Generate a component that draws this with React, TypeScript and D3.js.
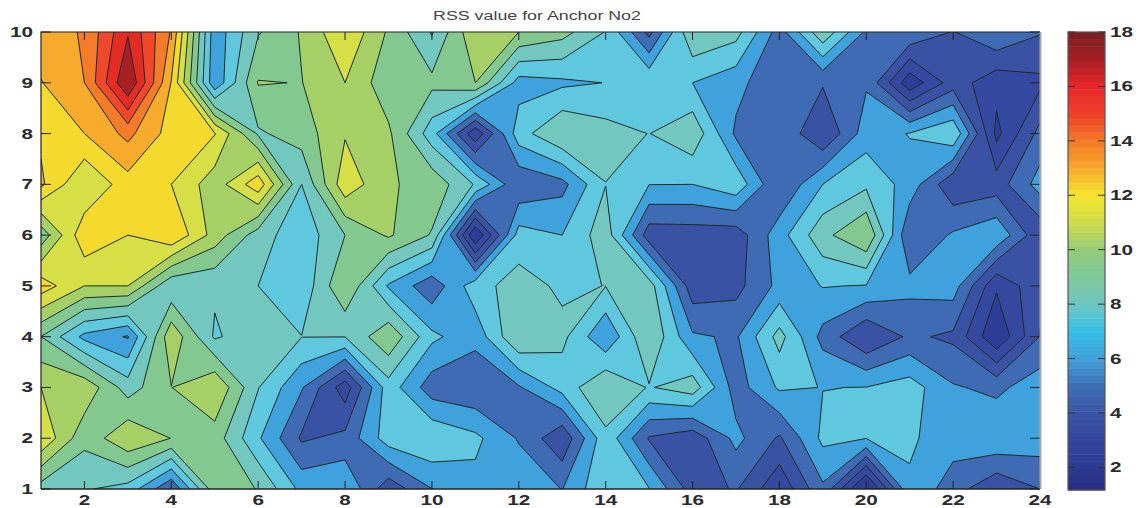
import React from 'react';
import * as d3 from 'd3';

const width = 1138;
const height = 508;
const plot = { left: 41, right: 1040, top: 32, bottom: 489 };
const bar = { left: 1068, right: 1105, top: 32, bottom: 490 };

const xTicks = d3.range(2, 25, 2);
const yTicks = d3.range(1, 11);
const barTicks = d3.range(2, 19, 2);

// RSS readings per row, column 1 to 24
const row1 = [8.06, 7.6, 7.1, 4.4, 9.2, 8.5, 6.15, 6.4, 3.63, 5.38, 6.1, 6.2, 5.37, 7.4, 6.5, 3.85, 4.45, 2.45, 5.2, 0.6, 6.3, 4.82, 3.45, 4.35];
const row2 = [11.57, 8.85, 10.5, 9.58, 9.1, 6.6, 4.2, 4.65, 7.0, 7.4, 6.7, 5.3, 3.5, 7.2, 4.25, 3.65, 5.7, 4.2, 6.7, 6.47, 6.6, 5.9, 6.3, 6.0];
const row3 = [10.65, 10.4, 8.03, 9.58, 10.6, 7.55, 5.5, 2.7, 7.05, 4.8, 4.47, 5.28, 6.84, 8.55, 7.42, 8.1, 4.9, 6.6, 6.43, 6.47, 6.95, 5.5, 5.15, 6.0];
const row4 = [8.55, 6.15, 5.3, 10.4, 7.35, 8.2, 7.52, 7.52, 9.43, 6.7, 5.75, 8.55, 7.8, 5.5, 8.5, 5.55, 5.25, 7.9, 5.03, 3.3, 4.54, 4.14, 1.3, 4.4];
const row5 = [12.28, 10.65, 10.65, 7.65, 7.67, 7.5, 6.7, 9.6, 6.32, 4.68, 7.1, 7.95, 7.3, 7.52, 8.04, 3.7, 4.0, 5.7, 6.5, 6.4, 5.7, 5.9, 2.4, 4.1];
const row6 = [8.9, 12.5, 11.7, 12.7, 10.2, 8.0, 6.8, 8.55, 9.75, 8.45, 1.2, 6.9, 6.45, 8.1, 3.75, 3.8, 3.75, 6.0, 8.23, 9.6, 4.4, 5.55, 6.25, 3.55];
const row7 = [12.95, 10.65, 12.3, 11.7, 10.05, 12.4, 7.5, 11.38, 9.7, 9.3, 7.4, 4.5, 5.06, 7.48, 6.47, 6.45, 7.2, 4.35, 6.45, 7.28, 6.0, 3.5, 3.8, 5.85];
const row8 = [12.55, 12.75, 14.1, 12.3, 11.75, 8.4, 9.05, 10.55, 9.8, 6.9, 2.5, 7.04, 8.55, 7.92, 7.48, 8.3, 5.2, 5.3, 3.3, 5.95, 6.5, 7.4, 1.95, 4.7];
const row9 = [12.7, 13.8, 18, 12.7, 5.6, 9.66, 9.57, 10.65, 8.9, 8.83, 9.6, 6.0, 6.24, 6.47, 7.4, 6.45, 5.76, 4.5, 4.45, 5.28, 1.5, 3.85, 2.6, 3.05];
const row10 = [13.3, 13.9, 16.85, 13.7, 5.75, 8.45, 9.7, 11.6, 9.45, 7.4, 10.5, 9.6, 8.95, 7.45, 4.0, 8.5, 7.9, 4.9, 8.35, 5.2, 5.3, 4.3, 5.35, 4.43];
const rows = [row1, row2, row3, row4, row5, row6, row7, row8, row9, row10];

const levels = [2.25, 3.3, 4.35, 5.4, 6.45, 7.5, 8.55, 9.6, 10.65, 11.7, 12.75, 13.8, 14.85, 15.9, 16.95];
const bandColors = ['#2f3d99', '#3549a0', '#3a52a4', '#3f6bb4', '#40a2dc', '#60c8de', '#72c8bf', '#83c98f', '#a6d066', '#d6df46', '#f5da2e', '#f6ab2c', '#f47b27', '#f1472a', '#e42c25', '#a82024'];

// grid cells (level, column, row of lower left corner) whose saddle joins the high corners
const highJoinLevel = [5.4, 5.4, 7.5];
const highJoinCol = [10, 16, 13];
const highJoinRow = [5, 2, 4];

const barStops = [1.17, 2, 3, 4, 5, 6, 7, 8, 9, 10, 11, 12, 13, 14, 15, 16, 17, 18];
const barColors = ['#2a2a82', '#2d3a94', '#35459e', '#3a55a5', '#3e6fb5', '#419fd8', '#35bfe8', '#6fc6c0', '#7fc89a', '#92cc78', '#cfdc4a', '#f5e52e', '#f7a82b', '#f47a28', '#f0402a', '#e8262a', '#a62024', '#7a1e22'];

const x = d3.scaleLinear().domain([1, 24]).range([plot.left, plot.right]);
const y = d3.scaleLinear().domain([1, 10]).range([plot.bottom, plot.top]);
const barY = d3.scaleLinear().domain([1.17, 18]).range([bar.bottom, bar.top]);
const barColor = d3.scaleLinear<string>().domain(barStops).range(barColors);

// repeat the outer rows and columns so d3's border closing falls outside the clip
const padded = [rows[0], ...rows, rows[9]].map((r) => [r[0], ...r, r[23]]);
const flat = padded.flat();
const negated = flat.map((v) => -v);
const contourGen = d3.contours().size([26, 12]).smooth(true);

const path = d3.geoPath(
    d3.geoTransform({
        point(cx: number, cy: number) {
            this.stream.point(x(cx - 0.5), y(cy - 0.5));
        },
    })
);

// d3 always joins the low corners of a saddle; tracing the low part of the negated
// grid and inverting it gives the other reading, used only inside the listed cells
const outer = `M${x(-2)},${y(-2)}H${x(27)}V${y(13)}H${x(-2)}Z`;
const lowJoinPath = (level: number) => path(contourGen.contour(flat, level)) || '';
const highJoinPath = (level: number) => outer + (path(contourGen.contour(negated, -level)) || '');

const barSteps = d3.range(64).map((i) => 1.17 + (i * (18 - 1.17)) / 64);
const barStep = (18 - 1.17) / 64;

const labelFont = '"Liberation Sans", Arial, sans-serif';

const Label = ({ px, py, anchor, text }: { px: number; py: number; anchor: string; text: string }) => (
    <text
        transform={`translate(${px},${py}) scale(1.38,1)`}
        textAnchor={anchor}
        fontFamily={labelFont}
        fontSize={15}
        fontWeight={700}
        fill="#2b2b2b"
        dominantBaseline="central"
    >
        {text}
    </text>
);

export default function App() {
    return (
        <svg width={width} height={height} style={{ position: 'absolute', left: 0, top: 0, background: '#fff' }}>
            <defs>
                <clipPath id="plot-clip">
                    <rect x={plot.left} y={plot.top} width={plot.right - plot.left} height={plot.bottom - plot.top} />
                </clipPath>
                {highJoinCol.map((c, k) => (
                    <clipPath id={`cell-${k}`} key={k}>
                        <rect x={x(c)} y={y(highJoinRow[k] + 1)} width={x(c + 1) - x(c)} height={y(highJoinRow[k]) - y(highJoinRow[k] + 1)} />
                    </clipPath>
                ))}
            </defs>

            <text transform="translate(537,20) scale(1.32,1)" textAnchor="middle" fontFamily={labelFont} fontSize={13.5} fill="#444">
                RSS value for Anchor No2
            </text>

            <g clipPath="url(#plot-clip)">
                <rect x={plot.left} y={plot.top} width={plot.right - plot.left} height={plot.bottom - plot.top} fill={bandColors[0]} />
                {levels.map((level, i) => (
                    <g key={level} fill={bandColors[i + 1]} stroke="#1d2a2a" strokeWidth={1} strokeLinejoin="round">
                        <path d={lowJoinPath(level)} />
                        {highJoinLevel.map((l, k) =>
                            l === level ? (
                                <g key={k} clipPath={`url(#cell-${k})`}>
                                    <path d={highJoinPath(level)} fillRule="evenodd" />
                                </g>
                            ) : null
                        )}
                    </g>
                ))}
            </g>

            <g stroke="#222" strokeWidth={1}>
                {xTicks.map((t) => (
                    <g key={t}>
                        <line x1={x(t)} x2={x(t)} y1={plot.bottom} y2={plot.bottom - 8} />
                        <line x1={x(t)} x2={x(t)} y1={plot.top} y2={plot.top + 8} />
                    </g>
                ))}
                {yTicks.map((t) => (
                    <g key={t}>
                        <line x1={plot.left} x2={plot.left + 10} y1={y(t)} y2={y(t)} />
                        <line x1={plot.right} x2={plot.right - 10} y1={y(t)} y2={y(t)} />
                    </g>
                ))}
            </g>
            <path d={`M${plot.left},${plot.bottom}V${plot.top}H${plot.right}`} fill="none" stroke="#222" strokeWidth={1.2} />
            <line x1={plot.left} x2={plot.right} y1={plot.bottom} y2={plot.bottom} stroke="#222" strokeWidth={1.4} />
            <line x1={plot.right + 0.5} x2={plot.right + 0.5} y1={plot.top} y2={plot.bottom} stroke="#aaa" strokeWidth={2} />

            {xTicks.map((t) => (
                <Label key={t} px={x(t)} py={500} anchor="middle" text={String(t)} />
            ))}
            {yTicks.map((t) => (
                <Label key={t} px={33} py={y(t)} anchor="end" text={String(t)} />
            ))}

            {barSteps.map((v) => (
                <rect
                    key={v}
                    x={bar.left}
                    width={bar.right - bar.left}
                    y={barY(v + barStep)}
                    height={barY(v) - barY(v + barStep) + 0.5}
                    fill={barColor(v + barStep / 2)}
                />
            ))}
            <rect x={bar.left} y={bar.top} width={bar.right - bar.left} height={bar.bottom - bar.top} fill="none" stroke="#555" strokeWidth={1.2} />
            <g stroke="#333" strokeWidth={1}>
                {barTicks.map((t) => (
                    <g key={t}>
                        <line x1={bar.left} x2={bar.left + 7} y1={barY(t)} y2={barY(t)} />
                        <line x1={bar.right} x2={bar.right - 7} y1={barY(t)} y2={barY(t)} />
                    </g>
                ))}
            </g>
            {barTicks.map((t) => (
                <Label key={t} px={1110} py={barY(t)} anchor="start" text={String(t)} />
            ))}
        </svg>
    );
}
